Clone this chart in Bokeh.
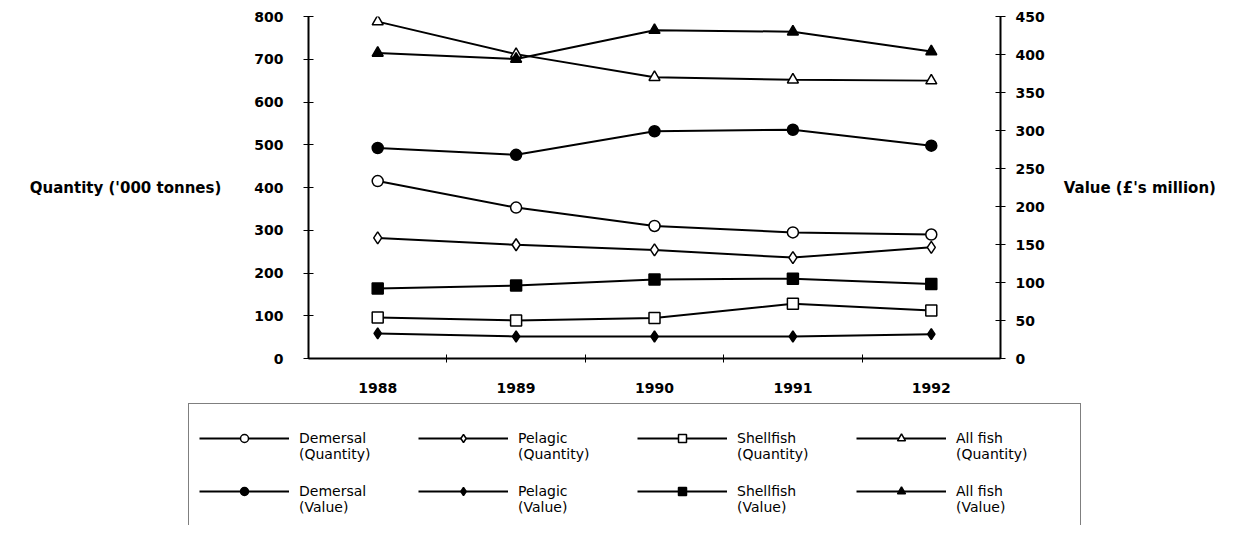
from bokeh.plotting import figure
from bokeh.models import Range1d, LinearAxis, FixedTicker, Legend, LegendItem
from bokeh.layouts import column
from bokeh.embed import file_html
from bokeh.resources import INLINE

years = [1988, 1989, 1990, 1991, 1992]
year_bounds = [1988.5, 1989.5, 1990.5, 1991.5]
qty_ticks = [0, 100, 200, 300, 400, 500, 600, 700, 800]
val_ticks = [0, 50, 100, 150, 200, 250, 300, 350, 400, 450]

demersal_qty = [415, 353, 310, 295, 290]
pelagic_qty = [282, 266, 254, 236, 260]
shellfish_qty = [96, 89, 95, 128, 112]
allfish_qty = [788, 712, 658, 652, 650]
demersal_val = [277, 268, 299, 301, 280]
pelagic_val = [33, 29, 29, 29, 32]
shellfish_val = [92, 96, 104, 105, 98]
allfish_val = [402, 394, 432, 430, 404]

FONT = "DejaVu Sans"

p = figure(frame_width=692, frame_height=342, output_backend="svg", toolbar_location=None,
           x_range=Range1d(1987.5, 1992.5), y_range=Range1d(0, 800),
           min_border_left=308, min_border_right=239, min_border_top=16, min_border_bottom=42,
           y_axis_location=None, x_axis_location=None)
p.extra_y_ranges = {"val": Range1d(0, 450)}
p.outline_line_color = None
p.xgrid.visible = False
p.ygrid.visible = False

def style_axis(ax):
    ax.axis_line_width = 2
    ax.axis_line_color = "black"
    ax.major_tick_line_color = "black"
    ax.major_tick_line_width = 1
    ax.minor_tick_line_color = "black"
    ax.major_label_text_font = FONT
    ax.major_label_text_font_style = "bold"
    ax.major_label_text_font_size = "14px"
    ax.major_label_text_color = "black"
    ax.axis_label_text_font = FONT
    ax.axis_label_text_font_style = "bold"
    ax.axis_label_text_font_size = "15px"
    ax.axis_label_text_color = "black"

xax = LinearAxis(ticker=FixedTicker(ticks=years, minor_ticks=year_bounds))
style_axis(xax)
xax.major_tick_in = 0
xax.major_tick_out = 0
xax.minor_tick_in = 4
xax.minor_tick_out = 4
xax.major_label_standoff = 20
p.add_layout(xax, "below")

lax = LinearAxis(ticker=FixedTicker(ticks=qty_ticks, minor_ticks=[]),
                 axis_label="Quantity ('000 tonnes)")
style_axis(lax)
lax.major_tick_in = 5
lax.major_tick_out = 5
lax.minor_tick_in = 0
lax.minor_tick_out = 0
lax.major_label_standoff = 20
lax.axis_label_orientation = "horizontal"
lax.axis_label_standoff = 30
p.add_layout(lax, "left")

rax = LinearAxis(y_range_name="val", ticker=FixedTicker(ticks=val_ticks, minor_ticks=[]),
                 axis_label="Value (£'s million)")
style_axis(rax)
rax.major_tick_in = 5
rax.major_tick_out = 5
rax.minor_tick_in = 0
rax.minor_tick_out = 0
rax.major_label_standoff = 10
rax.axis_label_orientation = "horizontal"
rax.axis_label_standoff = 16
p.add_layout(rax, "right")

# (label, values, y-range, marker, fill, size); legend fills column by column,
# so this order gives row 1 = quantities, row 2 = values
series = [
    ("Demersal\n(Quantity)", demersal_qty, "default", "circle", "white", 11),
    ("Demersal\n(Value)", demersal_val, "val", "circle", "black", 11),
    ("Pelagic\n(Quantity)", pelagic_qty, "default", "diamond", "white", 12),
    ("Pelagic\n(Value)", pelagic_val, "val", "diamond", "black", 11),
    ("Shellfish\n(Quantity)", shellfish_qty, "default", "square", "white", 11),
    ("Shellfish\n(Value)", shellfish_val, "val", "square", "black", 11),
    ("All fish\n(Quantity)", allfish_qty, "default", "triangle", "white", 11),
    ("All fish\n(Value)", allfish_val, "val", "triangle", "black", 11),
]

# legend figure: same series drawn out of its visible range, only its legend shows
q = figure(frame_width=1239, frame_height=125, output_backend="svg", toolbar_location=None,
           x_range=Range1d(0, 1), y_range=Range1d(0, 1), min_border=0,
           x_axis_location=None, y_axis_location=None)
q.outline_line_color = None
q.xgrid.visible = False
q.ygrid.visible = False

for label, vals, rng, marker, fill, size in series:
    p.line(years, vals, y_range_name=rng, line_color="black", line_width=2)
    p.scatter(years, vals, y_range_name=rng, marker=marker, size=size,
              fill_color=fill, line_color="black", line_width=1.5)

items = []
for label, vals, rng, marker, fill, size in series:
    ln = q.line(years, vals, line_color="black", line_width=2)
    sc = q.scatter(years, vals, marker=marker, size=size - 2,
                   fill_color=fill, line_color="black", line_width=1.5)
    # leading empty line puts the first text line level with the glyph
    items.append(LegendItem(label="\n" + label, renderers=[ln, sc]))

legend = Legend(items=items, ncols=4, location=(188, -1),
                glyph_width=90, glyph_height=20, label_width=114,
                label_standoff=10, spacing=5, padding=10, margin=0,
                border_line_color="black", border_line_width=1,
                background_fill_alpha=1,
                label_text_font=FONT, label_text_font_size="14px",
                label_text_color="black")
q.add_layout(legend, "center")

open("out.html", "w").write(file_html(column(p, q, spacing=0), INLINE))
